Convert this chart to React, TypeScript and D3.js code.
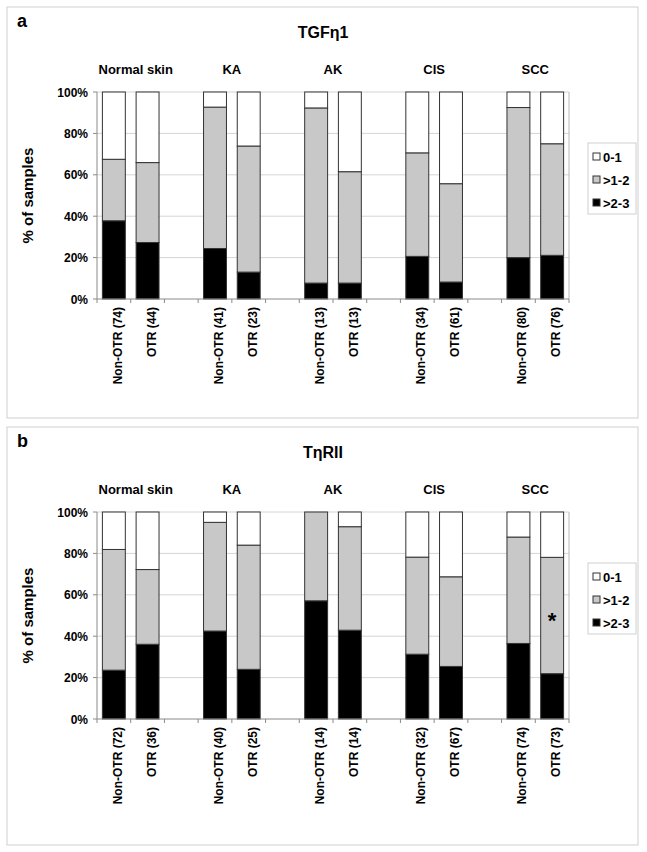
import React from "react";
import * as d3 from "d3";

const GROUPS = ["Normal skin", "KA", "AK", "CIS", "SCC"];
const SERIES_KEYS = ["high", "mid", "low"];
const LEGEND_LABELS = ["0-1", ">1-2", ">2-3"];
const Y_TICKS = [0, 20, 40, 60, 80, 100];

// Panel a: TGFη1
const A_LABELS = [
  "Non-OTR (74)", "OTR (44)", "Non-OTR (41)", "OTR (23)", "Non-OTR (13)",
  "OTR (13)", "Non-OTR (34)", "OTR (61)", "Non-OTR (80)", "OTR (76)",
];
const A_HIGH = [37.8, 27.3, 24.4, 13.0, 7.7, 7.7, 20.6, 8.2, 20.0, 21.1];
const A_MID = [29.7, 38.6, 68.3, 60.9, 84.6, 53.8, 50.0, 47.5, 72.5, 53.9];
const A_LOW = [32.5, 34.1, 7.3, 26.1, 7.7, 38.5, 29.4, 44.3, 7.5, 25.0];

// Panel b: TηRII
const B_LABELS = [
  "Non-OTR (72)", "OTR (36)", "Non-OTR (40)", "OTR (25)", "Non-OTR (14)",
  "OTR (14)", "Non-OTR (32)", "OTR (67)", "Non-OTR (74)", "OTR (73)",
];
const B_HIGH = [23.6, 36.1, 42.5, 24.0, 57.1, 42.9, 31.3, 25.4, 36.5, 21.9];
const B_MID = [58.3, 36.1, 52.5, 60.0, 42.9, 50.0, 46.9, 43.3, 51.4, 56.2];
const B_LOW = [18.1, 27.8, 5.0, 16.0, 0.0, 7.1, 21.8, 31.3, 12.1, 21.9];

const FILLS: Record<string, string> = { high: "#000000", mid: "#c8c8c8", low: "#ffffff" };
const LEGEND_FILLS = ["#ffffff", "#c8c8c8", "#000000"];

const FONT = "'Liberation Sans', Arial, Helvetica, sans-serif";

// slot ids: pairs of bars with an empty gap slot between groups
const SLOT_IDS: string[] = [];
GROUPS.forEach((g, i) => {
  SLOT_IDS.push(`${i}-n`, `${i}-o`);
  if (i < GROUPS.length - 1) SLOT_IDS.push(`${i}-g`);
});
const BAR_IDS = SLOT_IDS.filter((s) => !s.endsWith("-g"));

type PanelProps = {
  oy: number;
  frameH: number;
  letter: string;
  title: string;
  labels: string[];
  high: number[];
  mid: number[];
  low: number[];
  star?: { index: number; value: number };
};

function Panel({ oy, frameH, letter, title, labels, high, mid, low, star }: PanelProps) {
  const plotL = 97, plotR = 569, plotT = 92 + oy, plotB = 299 + oy;
  const x = d3.scaleBand<string>().domain(SLOT_IDS).range([plotL, plotR]).paddingInner(0.32).paddingOuter(0.16);
  const y = d3.scaleLinear().domain([0, 100]).range([plotB, plotT]);
  const rows = BAR_IDS.map((id, i) => ({ id, high: high[i], mid: mid[i], low: low[i] }));
  const stacked = d3.stack<any>().keys(SERIES_KEYS)(rows);
  const step = x.step();
  const tickXs = d3.range(SLOT_IDS.length + 1).map((i) => plotL + i * step);

  return (
    <g>
      <rect x={7} y={7 + oy} width={631} height={frameH} fill="#fff" stroke="#cfcfcf" strokeWidth={1} />
      <text x={17} y={27 + oy} fontFamily={FONT} fontWeight="bold" fontSize={18}>{letter}</text>
      <text x={323} y={38 + oy} textAnchor="middle" fontFamily={FONT} fontWeight="bold" fontSize={16}>{title}</text>
      {GROUPS.map((g, i) => {
        const cx = ((x(`${i}-n`) as number) + (x(`${i}-o`) as number) + x.bandwidth()) / 2;
        return (
          <text key={g} x={cx + (i === 0 ? 5 : 0)} y={74 + oy} textAnchor="middle" fontFamily={FONT} fontWeight="bold" fontSize={13}>{g}</text>
        );
      })}
      {/* gridlines */}
      {Y_TICKS.filter((t) => t > 0).map((t) => (
        <line key={t} x1={plotL} x2={plotR} y1={y(t)} y2={y(t)} stroke="#d4d4d4" strokeWidth={1} />
      ))}
      <line x1={plotR} x2={plotR} y1={plotT} y2={plotB} stroke="#b8b8b8" strokeWidth={1} />
      {/* bars */}
      {stacked.map((layer) =>
        layer.map((d: any, i: number) => {
          const h = y(d[0]) - y(d[1]);
          if (h <= 0) return null;
          return (
            <rect
              key={layer.key + i}
              x={x(BAR_IDS[i])}
              y={y(d[1])}
              width={x.bandwidth()}
              height={h}
              fill={FILLS[layer.key]}
              stroke="#333"
              strokeWidth={1}
            />
          );
        })
      )}
      {/* axes */}
      <line x1={plotL} x2={plotL} y1={plotT} y2={plotB} stroke="#8a8a8a" strokeWidth={1} />
      <line x1={plotL} x2={plotR} y1={plotB} y2={plotB} stroke="#8a8a8a" strokeWidth={1} />
      {tickXs.map((tx, i) => (
        <line key={i} x1={tx} x2={tx} y1={plotB} y2={plotB + 4} stroke="#8a8a8a" strokeWidth={1} />
      ))}
      {Y_TICKS.map((t) => (
        <g key={t}>
          <line x1={plotL - 4} x2={plotL} y1={y(t)} y2={y(t)} stroke="#8a8a8a" strokeWidth={1} />
          <text x={88} y={y(t) + 4.5} textAnchor="end" fontFamily={FONT} fontWeight="bold" fontSize={12}>{t}%</text>
        </g>
      ))}
      <text
        transform={`translate(33, ${(plotT + plotB) / 2}) rotate(-90)`}
        textAnchor="middle"
        fontFamily={FONT}
        fontWeight="bold"
        fontSize={15}
      >
        % of samples
      </text>
      {labels.map((lab, i) => {
        const cx = (x(BAR_IDS[i]) as number) + x.bandwidth() / 2 + 8;
        return (
          <text
            key={lab + i}
            transform={`translate(${cx}, ${plotB + 8}) rotate(-90)`}
            textAnchor="end"
            fontFamily={FONT}
            fontWeight="bold"
            fontSize={12}
          >
            {lab}
          </text>
        );
      })}
      {star && (
        <text
          x={(x(BAR_IDS[star.index]) as number) + x.bandwidth() / 2}
          y={y(star.value) + 9}
          textAnchor="middle"
          fontFamily={FONT}
          fontWeight="bold"
          fontSize={22}
        >
          *
        </text>
      )}
      {/* legend */}
      <rect x={588} y={143 + oy} width={48} height={71} fill="#fff" stroke="#d0d0d0" strokeWidth={1} />
      {LEGEND_LABELS.map((lab, i) => (
        <g key={lab}>
          <rect x={593} y={153 + oy + i * 23} width={7} height={7} fill={LEGEND_FILLS[i]} stroke="#333" strokeWidth={1} />
          <text x={603} y={161.5 + oy + i * 23} fontFamily={FONT} fontWeight="bold" fontSize={13}>{lab}</text>
        </g>
      ))}
    </g>
  );
}

export default function App() {
  return (
    <svg width={647} height={852} style={{ position: "absolute", left: 0, top: 0, background: "#fff" }}>
      <rect width={647} height={852} fill="#fff" />
      <Panel oy={0} frameH={411} letter="a" title="TGFη1" labels={A_LABELS} high={A_HIGH} mid={A_MID} low={A_LOW} />
      <Panel oy={420} frameH={418} letter="b" title="TηRII" labels={B_LABELS} high={B_HIGH} mid={B_MID} low={B_LOW} star={{ index: 9, value: 48.5 }} />
    </svg>
  );
}
